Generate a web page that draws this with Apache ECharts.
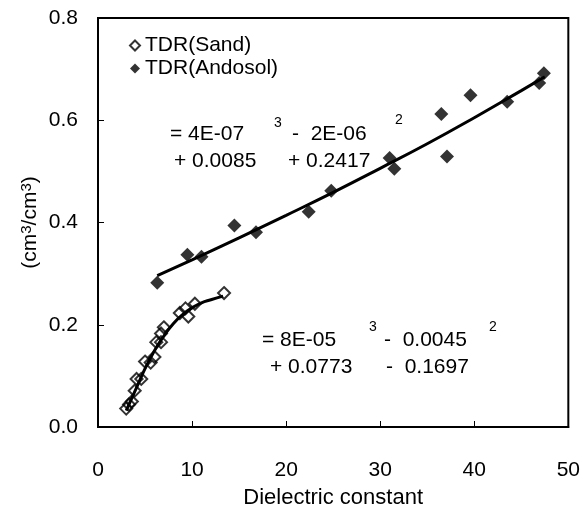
<!DOCTYPE html>
<html><head><meta charset="utf-8">
<script src="https://cdn.jsdelivr.net/npm/echarts@6/dist/echarts.min.js"></script>
<style>html,body{margin:0;padding:0;background:#fff}#c{width:583px;height:514px}</style>
</head><body><div id="c"></div>
<script>
// Data
const sandX = [3.0, 3.3, 3.6, 3.9, 4.1, 4.6, 5.0, 5.6, 6.0, 6.2, 6.7, 6.7, 7.0, 8.7, 9.3, 9.6, 10.3, 13.4];
const sandY = [0.036, 0.044, 0.05, 0.071, 0.094, 0.094, 0.128, 0.126, 0.137, 0.166, 0.166, 0.183, 0.195, 0.223, 0.232, 0.216, 0.241, 0.262];
const andoX = [6.3, 9.5, 11.0, 14.5, 16.8, 22.4, 24.8, 31.0, 31.5, 36.5, 37.1, 39.6, 43.5, 46.9, 47.4];
const andoY = [0.282, 0.337, 0.333, 0.394, 0.381, 0.421, 0.462, 0.526, 0.505, 0.612, 0.529, 0.649, 0.636, 0.673, 0.692];
// Trend lines
const sandFitX = [3.0, 4, 5, 6, 7, 8, 9, 10, 11, 12, 13.3];
const sandFitY = [0.032, 0.073, 0.114, 0.149, 0.178, 0.202, 0.220, 0.233, 0.243, 0.249, 0.256];
const andoFitX = [6.3, 10, 15, 20, 25, 30, 35, 40, 45, 47.5];
const andoFitY = [0.296, 0.327, 0.370, 0.414, 0.459, 0.506, 0.554, 0.605, 0.658, 0.685];
const xTicks = [0, 10, 20, 30, 40, 50];
const yTicks = ['0.0', '0.2', '0.4', '0.6', '0.8'];
const seriesNames = ['TDR(Sand)', 'TDR(Andosol)'];

const zip = (a, b) => a.map((v, i) => [v, b[i]]);
const F = 'Liberation Sans, Arial, sans-serif';
const FS = 21;

const chart = echarts.init(document.getElementById('c'), null, {renderer: 'canvas'});
const txt = (x, y, s, size) => ({type: 'text', left: x, top: y, style: {text: s, font: (size || FS) + 'px ' + F, fill: '#000'}});
chart.setOption({
  animation: false,
  grid: {left: 98, right: 11, top: 18, bottom: 87, show: true, borderColor: '#000', borderWidth: 2},
  legend: {
    orient: 'vertical', left: 124, top: 30, itemGap: 2, itemWidth: 10, itemHeight: 10,
    textStyle: {fontFamily: F, fontSize: FS, color: '#000'},
    data: [
      {name: seriesNames[0], icon: 'diamond', itemStyle: {color: '#fff', borderColor: '#000', borderWidth: 2}},
      {name: seriesNames[1], icon: 'diamond', itemStyle: {color: '#000'}}
    ]
  },
  xAxis: {
    type: 'value', min: xTicks[0], max: xTicks[xTicks.length - 1], interval: 10,
    name: 'Dielectric constant', nameLocation: 'middle', nameGap: 60,
    nameTextStyle: {fontFamily: F, fontSize: 22, color: '#000'},
    axisLine: {lineStyle: {color: '#000', width: 2}},
    axisTick: {inside: true, length: 6, lineStyle: {color: '#000', width: 1}},
    axisLabel: {margin: 33, fontFamily: F, fontSize: FS, color: '#000'},
    splitLine: {show: false}
  },
  yAxis: {
    type: 'value', min: 0, max: 0.8, interval: 0.2,
    name: '(cm{s|3}/cm{s|3})', nameLocation: 'middle', nameRotate: 90, nameGap: 56, nameMoveOverlap: false,
    nameTextStyle: {fontFamily: F, fontSize: FS, color: '#000',
      rich: {s: {fontFamily: F, fontSize: 15, color: '#000', verticalAlign: 'top', padding: [0, 0, 8, 0]}}},
    axisLine: {show: true, lineStyle: {color: '#000', width: 2}},
    axisTick: {show: true, inside: true, length: 6, lineStyle: {color: '#000', width: 1}},
    axisLabel: {margin: 20, fontFamily: F, fontSize: FS, color: '#000', formatter: v => yTicks[Math.round(v / 0.2)]},
    splitLine: {show: false}
  },
  series: [
    {name: seriesNames[0], type: 'scatter', symbol: 'diamond', symbolSize: 12, z: 3,
     itemStyle: {color: 'rgba(255,255,255,0)', borderColor: '#000', borderWidth: 2}, data: zip(sandX, sandY)},
    {name: seriesNames[1], type: 'scatter', symbol: 'diamond', symbolSize: 14, z: 3,
     itemStyle: {color: '#000'}, data: zip(andoX, andoY)},
    {name: 'fitSand', type: 'line', smooth: true, showSymbol: false, z: 4, silent: true,
     lineStyle: {color: '#000', width: 3}, data: zip(sandFitX, sandFitY)},
    {name: 'fitAndo', type: 'line', smooth: true, showSymbol: false, z: 2, silent: true,
     lineStyle: {color: '#000', width: 3}, data: zip(andoFitX, andoFitY)}
  ],
  graphic: [
    txt(170, 124, '= 4E-07'), txt(274, 116, '3', 14), txt(292, 124, '-  2E-06'), txt(395, 113, '2', 14),
    txt(174, 151, '+ 0.0085'), txt(288, 151, '+ 0.2417'),
    txt(262, 330, '= 8E-05'), txt(369, 320, '3', 14), txt(384, 330, '-  0.0045'), txt(489, 320, '2', 14),
    txt(270, 357, '+ 0.0773'), txt(386, 357, '-  0.1697')
  ]
});
</script></body></html>
